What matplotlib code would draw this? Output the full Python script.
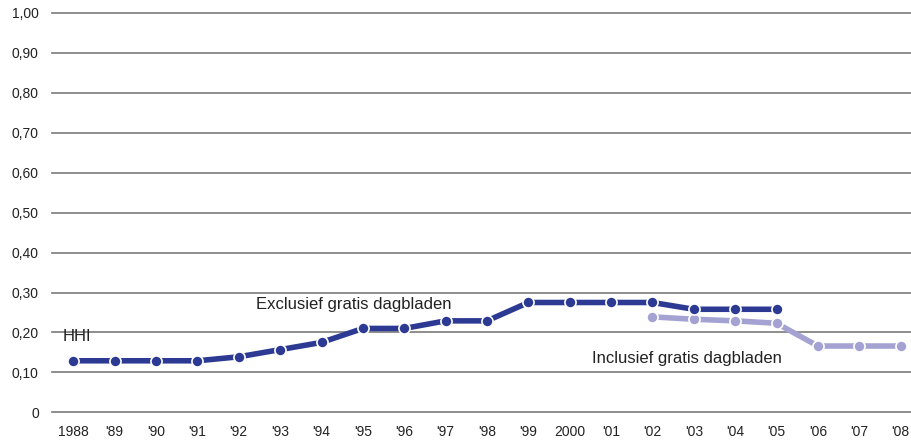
import numpy as np
import matplotlib.pyplot as plt
from matplotlib import font_manager

years = ['1988', "'89", "'90", "'91", "'92", "'93", "'94", "'95", "'96", "'97", "'98",
         "'99", '2000', "'01", "'02", "'03", "'04", "'05", "'06", "'07", "'08"]
excl = [0.129, 0.129, 0.129, 0.129, 0.139, 0.157, 0.175, 0.210, 0.210, 0.229, 0.229,
        0.275, 0.275, 0.275, 0.275, 0.258, 0.258, 0.258]
incl = [0.239, 0.233, 0.229, 0.223, 0.166, 0.166, 0.166]
yticks = [0, 0.1, 0.2, 0.3, 0.4, 0.5, 0.6, 0.7, 0.8, 0.9, 1.0]
ylabels = ['0', '0,10', '0,20', '0,30', '0,40', '0,50', '0,60', '0,70', '0,80', '0,90', '1,00']

names = {f.name for f in font_manager.fontManager.ttflist}
fam = 'Liberation Sans Narrow' if 'Liberation Sans Narrow' in names else 'Liberation Sans'
plt.rcParams['font.family'] = [fam, 'DejaVu Sans']

dark = '#2d3a94'
light = '#a3a2d2'

fig = plt.figure(figsize=(9.11, 4.43), dpi=100)
ax = fig.add_axes([52 / 911, 1 - 412.3 / 443, 1 - 52 / 911, 399.3 / 443])

x = np.arange(len(years))
ax.plot(x[:len(excl)], excl, color=dark, lw=4, marker='o', ms=8,
        mfc=dark, mec='white', mew=1.2, solid_capstyle='butt', zorder=4)
ax.plot(x[14:14 + len(incl)], incl, color=light, lw=4, marker='o', ms=8,
        mfc=light, mec='white', mew=1.2, solid_capstyle='butt', zorder=3)

ax.set_xlim(-0.515, 20.25)
ax.set_ylim(0, 1.0)
ax.set_yticks(yticks)
ax.set_yticklabels(ylabels)
ax.set_xticks(x)
ax.set_xticklabels(years)
for t in yticks:
    ax.axhline(t, color='#7a7a7a', lw=1.2, zorder=1, clip_on=False)

for s in ax.spines.values():
    s.set_visible(False)
ax.tick_params(length=0, labelsize=10, colors='#222222')
ax.tick_params(axis='y', pad=9.5)
ax.tick_params(axis='x', pad=9)

ax.text(-0.25, 0.191, 'HHI', fontsize=12, color='#222222', va='center', ha='left')
ax.text(4.42, 0.27, 'Exclusief gratis dagbladen', fontsize=12, color='#222222',
        va='center', ha='left')
ax.text(12.53, 0.135, 'Inclusief gratis dagbladen', fontsize=12, color='#222222',
        va='center', ha='left')

fig.savefig('out.png', dpi=100)
